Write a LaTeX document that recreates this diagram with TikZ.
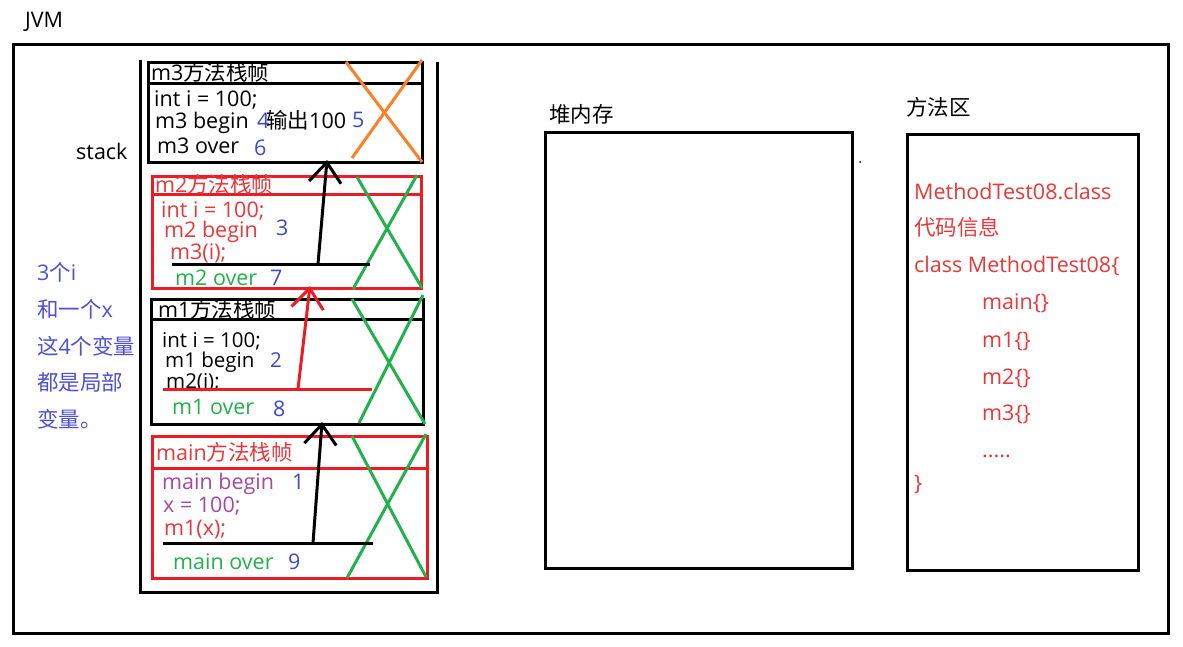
\documentclass[tikz,border=0pt]{standalone}
\usepackage{fontspec}
\setmainfont{Open Sans}
\newfontfamily\cjk{Noto Sans CJK SC}
\usetikzlibrary{arrows.meta}
\definecolor{pred}{HTML}{ED1C24}
\definecolor{pgreen}{HTML}{22B14C}
\definecolor{porange}{HTML}{FF7F27}
\definecolor{pblue}{HTML}{3F48CC}
\definecolor{lblue}{HTML}{4E50D2}
\definecolor{ppurple}{HTML}{A349A4}
\definecolor{tred}{HTML}{E8383C}
\newcommand{\fs}{\fontsize{21.5}{24}\selectfont}
\newcommand{\fss}{\fontsize{20.5}{23}\selectfont}
\begin{document}
\begin{tikzpicture}[x=1pt,y=-1pt,
  txt/.style={anchor=west, inner sep=0pt, font=\fs, text height=14pt, text depth=0pt},
  stxt/.style={txt, font=\fss},
  frm/.style={line width=3pt},
  cross/.style={line width=3pt},
  callline/.style={line width=3pt},
  callarrow/.style={line width=3pt, -{Straight Barb[length=20pt,width=32pt]}}
]
\useasboundingbox (0,0) rectangle (1183,646);
\fill[white] (0,0) rectangle (1183,646);

% JVM
\node[txt] (jvm) at (25,20) {JVM};
\draw[frm] (13,44) rectangle (1168,633);

% stack
\node[txt] (stacklbl) at (76,152) {stack};
\draw[frm] (140,60) -- (140,592) -- (437,592) -- (437,62);

% m3 frame
\draw[frm] (148,62) rectangle (422,162);
\draw[frm] (148,83) -- (422,83);
\node[txt] (m3h) at (151,73) {m3{\cjk 方法栈帧}};
\node[txt] (m3a) at (154,99) {int i = 100;};
\node[txt] (m3b) at (155,121) {m3 begin};
\node[txt, pblue] (n4) at (257,121) {4};
\node[txt] (m3o) at (266,121) {{\cjk 输出}100};
\node[txt, pblue] (n5) at (352,120) {5};
\node[txt] (m3c) at (157,146) {m3 over};
\node[txt, pblue] (n6) at (254,148) {6};
\draw[cross, porange] (346,62) -- (422,162);
\draw[cross, porange] (422,60) -- (352,158);
\coordinate (m3in) at (327,160);

% m2 frame
\draw[frm, pred] (152,176) rectangle (421,288);
\draw[frm, pred] (152,194) -- (421,194);
\node[txt, tred] (m2h) at (155,185) {m2{\cjk 方法栈帧}};
\node[txt, tred] (m2a) at (161,210) {int i = 100;};
\node[txt, tred] (m2b) at (164,230) {m2 begin};
\node[txt, pblue] (n3) at (276,228) {3};
\node[txt, tred] (m2c) at (170,252) {m3(i);};
\node[txt, pgreen] (m2o) at (175,278) {m2 over};
\node[txt, pblue] (n7) at (270,278) {7};
\draw[cross, pgreen] (357,177) -- (422,288);
\draw[cross, pgreen] (417,175) -- (353,289);
\coordinate (l2a) at (172,264);
\coordinate (l2b) at (370,264);
\draw[callline] (l2a) -- (l2b);
\coordinate (a2) at (318,264);
\coordinate (m2in) at (310,286);

% m1 frame
\draw[frm] (151,299) rectangle (423,424);
\draw[frm] (151,319) -- (423,319);
\node[txt] (m1h) at (158,310) {m1{\cjk 方法栈帧}};
\node[stxt] (m1a) at (162,340) {int i = 100;};
\node[stxt] (m1b) at (165,360) {m1 begin};
\node[stxt, pblue] (n2) at (270,360) {2};
\node[stxt] (m1c) at (166,381) {m2(i);};
\node[txt, pgreen] (m1o) at (172,407) {m1 over};
\node[txt, pblue] (n8) at (273,409) {8};
\draw[cross, pgreen] (352,299) -- (425,424);
\draw[cross, pgreen] (423,295) -- (359,423);
\coordinate (l1a) at (163,389);
\coordinate (l1b) at (372,389);
\draw[callline, pred] (l1a) -- (l1b);
\coordinate (a1) at (298,389);
\coordinate (m1in) at (322,422);

% main frame
\draw[frm, pred] (152,436) rectangle (427,578);
\draw[frm, pred] (152,468) -- (427,468);
\node[txt, tred] (mh) at (156,453) {main{\cjk 方法栈帧}};
\node[txt, ppurple] (ma) at (162,482) {main begin};
\node[txt, pblue] (n1) at (292,482) {1};
\node[txt, ppurple] (mb) at (163,505) {x = 100;};
\node[txt, tred] (mc) at (164,528) {m1(x);};
\node[txt, pgreen] (mo) at (173,562) {main over};
\node[txt, pblue] (n9) at (288,562) {9};
\draw[cross, pgreen] (352,436) -- (426,577);
\draw[cross, pgreen] (426,434) -- (347,578);
\coordinate (l0a) at (163,543);
\coordinate (l0b) at (373,543);
\draw[callline] (l0a) -- (l0b);
\coordinate (a0) at (313,543);

% call arrows
\draw[callarrow] (a2) -- (m3in);
\draw[callarrow, pred] (a1) -- (m2in);
\draw[callarrow] (a0) -- (m1in);

% left note
\node[txt, lblue] (t1) at (37,273) {3{\cjk 个}i};
\node[txt, lblue] (t2) at (37,310) {{\cjk 和一个}x};
\node[txt, lblue] (t3) at (37,347) {{\cjk 这}4{\cjk 个变量}};
\node[txt, lblue] (t4) at (37,383) {\cjk 都是局部};
\node[txt, lblue] (t5) at (37,420) {\cjk 变量。};

% heap
\node[txt] (heaplbl) at (549,115) {\cjk 堆内存};
\draw[frm] (545,132) rectangle (852,568);
\fill (860,162) circle (1pt);

% method area
\node[txt] (malbl) at (906,108) {\cjk 方法区};
\draw[frm] (907,134) rectangle (1138,570);
\node[txt, tred] (c1) at (914,192) {MethodTest08.class};
\node[txt, tred] (c2) at (914,228) {\cjk 代码信息};
\node[txt, tred] (c3) at (914,265) {class MethodTest08\{};
\node[txt, tred] (c4) at (982,302) {main\{\}};
\node[txt, tred] (c5) at (982,340) {m1\{\}};
\node[txt, tred] (c6) at (982,377) {m2\{\}};
\node[txt, tred] (c7) at (982,413) {m3\{\}};
\node[txt, tred] (c8) at (982,450) {.....};
\node[txt, tred] (c9) at (914,483) {\}};
\end{tikzpicture}
\end{document}
